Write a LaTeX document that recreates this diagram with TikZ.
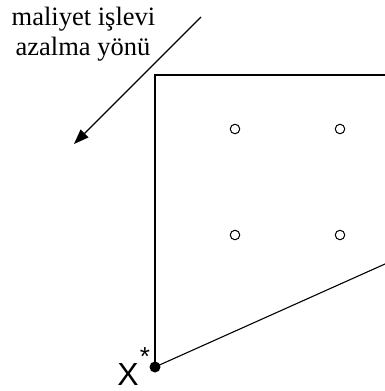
\documentclass[tikz,border=0pt]{standalone}
\usepackage{fontspec}
\setmainfont{Liberation Serif}
\newfontfamily\arialfont{Liberation Sans}
\usetikzlibrary{arrows.meta}
\begin{document}
\begin{tikzpicture}[x=1pt,y=-1pt,
  edge/.style={line width=1.1pt,line cap=rect},
  pt/.style={circle,draw,line width=1pt,minimum size=9.5pt,inner sep=0pt},
  optdot/.style={circle,fill=black,minimum size=11pt,inner sep=0pt},
  lbl/.style={font=\fontsize{26.5}{30}\selectfont,inner sep=0pt,anchor=base}]
\useasboundingbox (0,0) rectangle (385,391);
% label
\node[lbl] (l1) at (83.5,25) {maliyet işlevi};
\node[lbl] (l2) at (83,55) {azalma yönü};
% arrow
\coordinate (as) at (201,17);
\coordinate (ae) at (74,144);
\draw[line width=1.1pt,-{Triangle[length=15pt,width=11pt]}] (as) -- (ae);
% region
\coordinate (tl) at (155,75);
\coordinate (tr) at (385,75);
\coordinate (br) at (385,264);
\node[optdot] (xs) at (155,367) {};
\draw[edge] (tr) -- (tl) -- (xs.center);
\draw[edge] (xs.center) -- (br);
% interior points
\node[pt] (p1) at (235,129) {};
\node[pt] (p2) at (340,129) {};
\node[pt] (p3) at (235,235) {};
\node[pt] (p4) at (340,235) {};
% X*
\node[font=\arialfont\fontsize{32}{32}\selectfont,inner sep=0pt,anchor=base] (xl) at (128,385) {X};
\node[font=\arialfont\fontsize{26}{26}\selectfont,inner sep=0pt,anchor=base] (st) at (145,365) {*};
\end{tikzpicture}
\end{document}
